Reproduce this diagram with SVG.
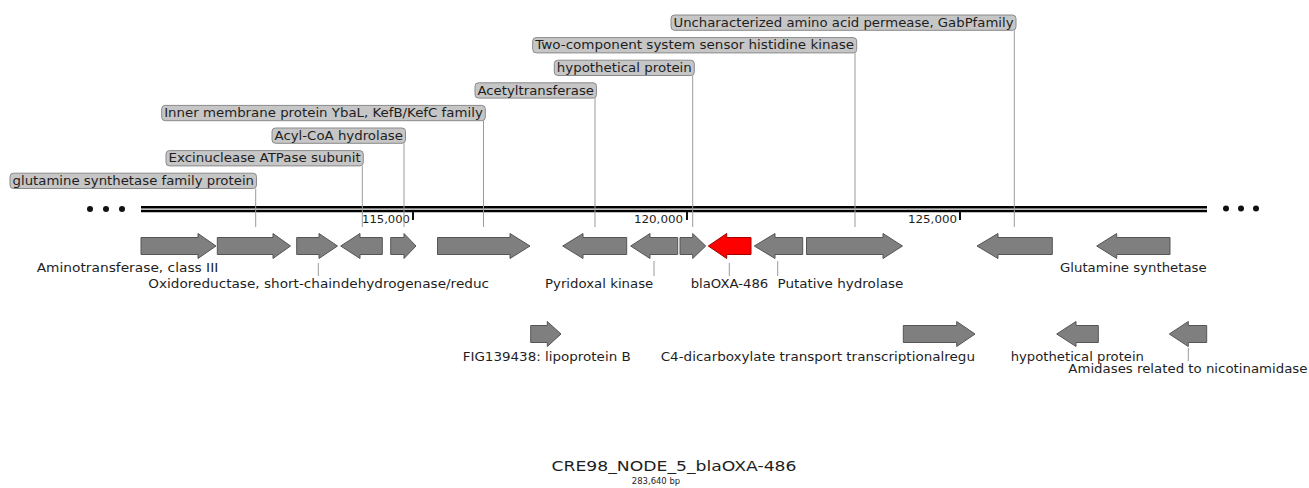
<svg xmlns="http://www.w3.org/2000/svg" width="1309" height="488" viewBox="0 0 1309 488">
<style>
.g{fill:#7f7f7f;stroke:#555;stroke-width:1}
.r{fill:#ff0000;stroke:#a00000;stroke-width:1}
.box{fill:#c6c6c6;stroke:#8a8a8a;stroke-width:1}
.bt{font-family:"DejaVu Sans",Verdana,sans-serif;font-size:11.5px;fill:#1e1e1e}
.lt{font-family:"DejaVu Sans",Verdana,sans-serif;font-size:11.5px;fill:#1e1e1e}
.tk{font-family:"DejaVu Sans",Verdana,sans-serif;font-size:10.5px;fill:#1e1e1e}
.ln{stroke:#9a9a9a;stroke-width:1;fill:none}
.ax{stroke:#000;fill:none}
</style>
<rect width="1309" height="488" fill="#fff"/>
<g id="axis">
<line class="ax" x1="141" y1="207.2" x2="1207" y2="207.2" stroke-width="2.4"/>
<line class="ax" x1="141" y1="211" x2="1207" y2="211" stroke-width="2.6"/>
<circle cx="90" cy="209" r="3" fill="#111"/><circle cx="106" cy="209" r="3" fill="#111"/><circle cx="122" cy="209" r="3" fill="#111"/>
<circle cx="1226" cy="208.5" r="3" fill="#111"/><circle cx="1241" cy="208.5" r="3" fill="#111"/><circle cx="1256" cy="208.5" r="3" fill="#111"/>
<rect x="412" y="212" width="2" height="8" fill="#111"/>
<rect x="686" y="212" width="2" height="8" fill="#111"/>
<rect x="959" y="212" width="2" height="8" fill="#111"/>
<text class="tk" x="362" y="223" textLength="48" lengthAdjust="spacingAndGlyphs">115,000</text>
<text class="tk" x="634" y="223" textLength="49" lengthAdjust="spacingAndGlyphs">120,000</text>
<text class="tk" x="908" y="223" textLength="49" lengthAdjust="spacingAndGlyphs">125,000</text>
</g>
<g id="connectors">
<line class="ln" x1="255.7" y1="188.5" x2="255.7" y2="227"/>
<line class="ln" x1="362.3" y1="166" x2="362.3" y2="227"/>
<line class="ln" x1="404" y1="143.3" x2="404" y2="227"/>
<line class="ln" x1="483.5" y1="120.7" x2="483.5" y2="227"/>
<line class="ln" x1="595" y1="98" x2="595" y2="227"/>
<line class="ln" x1="692.7" y1="75.5" x2="692.7" y2="227"/>
<line class="ln" x1="855" y1="53" x2="855" y2="227"/>
<line class="ln" x1="1014.3" y1="30.3" x2="1014.3" y2="227"/>
<line class="ln" x1="318.3" y1="263" x2="318.3" y2="276"/>
<line class="ln" x1="654" y1="261" x2="654" y2="276"/>
<line class="ln" x1="729.3" y1="263" x2="729.3" y2="276"/>
<line class="ln" x1="777.7" y1="261" x2="777.7" y2="276"/>
<line class="ln" x1="1188.3" y1="348" x2="1188.3" y2="361"/>
</g>
<g id="callout-glutamine-family">
<rect class="box" x="10" y="173.2" width="246.5" height="15.3" rx="3.5"/>
<text class="bt" x="12.5" y="185" textLength="241.5" lengthAdjust="spacingAndGlyphs">glutamine synthetase family protein</text>
</g>
<g id="callout-excinuclease">
<rect class="box" x="166" y="150.6" width="197.3" height="15.3" rx="3.5"/>
<text class="bt" x="168.5" y="162.4" textLength="192.3" lengthAdjust="spacingAndGlyphs">Excinuclease ATPase subunit</text>
</g>
<g id="callout-acyl">
<rect class="box" x="272" y="128" width="133.5" height="15.3" rx="3.5"/>
<text class="bt" x="274.5" y="139.8" textLength="128.5" lengthAdjust="spacingAndGlyphs">Acyl-CoA hydrolase</text>
</g>
<g id="callout-inner-membrane">
<rect class="box" x="161.7" y="105.4" width="323.6" height="15.3" rx="3.5"/>
<text class="bt" x="164.2" y="117.2" textLength="318.6" lengthAdjust="spacingAndGlyphs">Inner membrane protein YbaL, KefB/KefC family</text>
</g>
<g id="callout-acetyl">
<rect class="box" x="475" y="82.8" width="121.5" height="15.3" rx="3.5"/>
<text class="bt" x="477.5" y="94.6" textLength="116.5" lengthAdjust="spacingAndGlyphs">Acetyltransferase</text>
</g>
<g id="callout-hypothetical">
<rect class="box" x="554.3" y="60.2" width="140" height="15.3" rx="3.5"/>
<text class="bt" x="556.8" y="72" textLength="135" lengthAdjust="spacingAndGlyphs">hypothetical protein</text>
</g>
<g id="callout-two-component">
<rect class="box" x="532.7" y="37.6" width="324" height="15.3" rx="3.5"/>
<text class="bt" x="535.2" y="49.4" textLength="319" lengthAdjust="spacingAndGlyphs">Two-component system sensor histidine kinase</text>
</g>
<g id="callout-permease">
<rect class="box" x="671" y="15" width="345" height="15.3" rx="3.5"/>
<text class="bt" x="673.5" y="26.8" textLength="340" lengthAdjust="spacingAndGlyphs">Uncharacterized amino acid permease, GabPfamily</text>
</g>
<g id="gene-aminotransferase">
<polygon class="g" points="141,237.5 198,237.5 198,233.5 216,246 198,258.5 198,254.5 141,254.5"/>
<text class="lt" x="36.7" y="272" textLength="181.6" lengthAdjust="spacingAndGlyphs">Aminotransferase, class III</text>
</g>
<g id="gene-2"><polygon class="g" points="217.3,237.5 273,237.5 273,233.5 290.5,246 273,258.5 273,254.5 217.3,254.5"/></g>
<g id="gene-oxidoreductase">
<polygon class="g" points="296.7,237.5 319,237.5 319,233.5 337.5,246 319,258.5 319,254.5 296.7,254.5"/>
<text class="lt" x="148.3" y="288" textLength="340.7" lengthAdjust="spacingAndGlyphs">Oxidoreductase, short-chaindehydrogenase/reduc</text>
</g>
<g id="gene-4"><polygon class="g" points="340.7,246 360,233.5 360,237.5 382.3,237.5 382.3,254.5 360,254.5 360,258.5"/></g>
<g id="gene-5"><polygon class="g" points="390.7,237.5 404,237.5 404,233.5 416,246 404,258.5 404,254.5 390.7,254.5"/></g>
<g id="gene-6"><polygon class="g" points="437.5,237.5 510,237.5 510,233.5 530,246 510,258.5 510,254.5 437.5,254.5"/></g>
<g id="gene-7"><polygon class="g" points="562.7,246 583,233.5 583,237.5 626.7,237.5 626.7,254.5 583,254.5 583,258.5"/></g>
<g id="gene-pyridoxal">
<polygon class="g" points="630.7,246 650,233.5 650,237.5 677.7,237.5 677.7,254.5 650,254.5 650,258.5"/>
<text class="lt" x="545" y="288" textLength="108.3" lengthAdjust="spacingAndGlyphs">Pyridoxal kinase</text>
</g>
<g id="gene-9"><polygon class="g" points="680,237.5 692.7,237.5 692.7,233.5 705.7,246 692.7,258.5 692.7,254.5 680,254.5"/></g>
<g id="gene-blaOXA">
<polygon class="r" points="708.3,246 726.7,233.5 726.7,237.5 751,237.5 751,254.5 726.7,254.5 726.7,258.5"/>
<text class="lt" x="690.7" y="288" textLength="77.6" lengthAdjust="spacingAndGlyphs">blaOXA-486</text>
</g>
<g id="gene-putative-hydrolase">
<polygon class="g" points="754.3,246 775,233.5 775,237.5 802.7,237.5 802.7,254.5 775,254.5 775,258.5"/>
<text class="lt" x="777.5" y="288" textLength="125.8" lengthAdjust="spacingAndGlyphs">Putative hydrolase</text>
</g>
<g id="gene-12"><polygon class="g" points="806.5,237.5 883,237.5 883,233.5 902.5,246 883,258.5 883,254.5 806.5,254.5"/></g>
<g id="gene-13"><polygon class="g" points="977,246 998,233.5 998,237.5 1052.3,237.5 1052.3,254.5 998,254.5 998,258.5"/></g>
<g id="gene-glutamine-synthetase">
<polygon class="g" points="1096.7,246 1116.7,233.5 1116.7,237.5 1170,237.5 1170,254.5 1116.7,254.5 1116.7,258.5"/>
<text class="lt" x="1060" y="272" textLength="146.7" lengthAdjust="spacingAndGlyphs">Glutamine synthetase</text>
</g>
<g id="gene-lipoprotein-b">
<polygon class="g" points="530.7,325.5 547.3,325.5 547.3,321.5 561,334 547.3,346.5 547.3,342.5 530.7,342.5"/>
<text class="lt" x="462.7" y="361" textLength="168" lengthAdjust="spacingAndGlyphs">FIG139438: lipoprotein B</text>
</g>
<g id="gene-c4-dicarboxylate">
<polygon class="g" points="903.3,325.5 956.7,325.5 956.7,321.5 975,334 956.7,346.5 956.7,342.5 903.3,342.5"/>
<text class="lt" x="660.7" y="361" textLength="314.3" lengthAdjust="spacingAndGlyphs">C4-dicarboxylate transport transcriptionalregu</text>
</g>
<g id="gene-hypothetical-2">
<polygon class="g" points="1056.7,334 1076,321.5 1076,325.5 1098.3,325.5 1098.3,342.5 1076,342.5 1076,346.5"/>
<text class="lt" x="1010.7" y="361" textLength="133.3" lengthAdjust="spacingAndGlyphs">hypothetical protein</text>
</g>
<g id="gene-amidases">
<polygon class="g" points="1169.3,334 1188.3,321.5 1188.3,325.5 1206.7,325.5 1206.7,342.5 1188.3,342.5 1188.3,346.5"/>
<text class="lt" x="1068.3" y="373" textLength="239.2" lengthAdjust="spacingAndGlyphs">Amidases related to nicotinamidase</text>
</g>
<g id="title">
<text x="674" y="470.8" text-anchor="middle" font-family="DejaVu Sans,Verdana,sans-serif" font-size="13.5" fill="#1e1e1e" textLength="245" lengthAdjust="spacingAndGlyphs">CRE98_NODE_5_blaOXA-486</text>
<text x="656" y="484" text-anchor="middle" font-family="DejaVu Sans,Verdana,sans-serif" font-size="9" fill="#1e1e1e" textLength="48.3" lengthAdjust="spacingAndGlyphs">283,640 bp</text>
</g>
</svg>
